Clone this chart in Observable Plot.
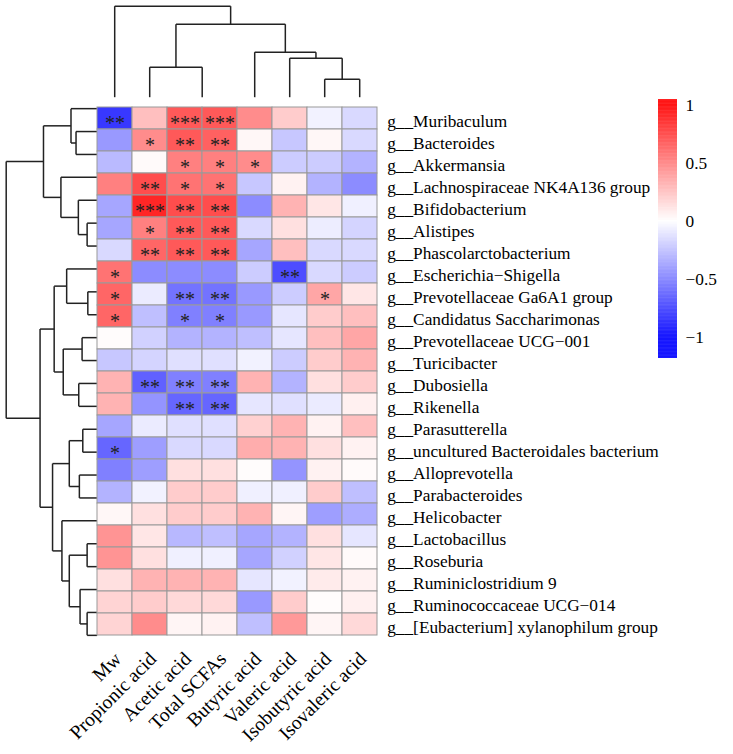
<!DOCTYPE html>
<html><head><meta charset="utf-8">
<script src="https://cdn.jsdelivr.net/npm/d3@7"></script>
<script src="https://cdn.jsdelivr.net/npm/@observablehq/plot@0.6"></script>
<style>
body{margin:0;background:#fff}
#chart{position:relative;width:733px;height:754px;background:#fff;overflow:hidden}
#chart svg{position:absolute;left:0;top:0}
</style>
</head><body><div id="chart"></div>
<script>
// ---- data ----
const columns = ["Mw","Propionic acid","Acetic acid","Total SCFAs","Butyric acid","Valeric acid","Isobutyric acid","Isovaleric acid"];
const genera = [
  "g__Muribaculum","g__Bacteroides","g__Akkermansia","g__Lachnospiraceae NK4A136 group",
  "g__Bifidobacterium","g__Alistipes","g__Phascolarctobacterium","g__Escherichia\u2212Shigella",
  "g__Prevotellaceae Ga6A1 group","g__Candidatus Saccharimonas","g__Prevotellaceae UCG\u2212001","g__Turicibacter",
  "g__Dubosiella","g__Rikenella","g__Parasutterella","g__uncultured Bacteroidales bacterium",
  "g__Alloprevotella","g__Parabacteroides","g__Helicobacter","g__Lactobacillus",
  "g__Roseburia","g__Ruminiclostridium 9","g__Ruminococcaceae UCG\u2212014","g__[Eubacterium] xylanophilum group"
];
const correlations = [
  [-0.78, 0.25, 0.65, 0.65, 0.45, 0.20,-0.05,-0.15],
  [-0.40, 0.45, 0.65, 0.62, 0.03,-0.22, 0.03,-0.15],
  [-0.27, 0.02, 0.50, 0.50, 0.45,-0.20,-0.20,-0.30],
  [ 0.50, 0.70, 0.55, 0.55,-0.22, 0.05,-0.30,-0.45],
  [-0.35, 0.85, 0.70, 0.70,-0.45, 0.30, 0.10,-0.06],
  [-0.35, 0.50, 0.65, 0.65,-0.15, 0.12,-0.07,-0.17],
  [-0.15, 0.60, 0.65, 0.65,-0.35, 0.25,-0.15,-0.15],
  [ 0.55,-0.45,-0.45,-0.45,-0.20,-0.70,-0.15,-0.20],
  [ 0.60,-0.08,-0.55,-0.55,-0.40,-0.20, 0.35, 0.10],
  [ 0.60,-0.25,-0.50,-0.50,-0.40,-0.10, 0.20, 0.25],
  [ 0.01,-0.18,-0.30,-0.30,-0.25,-0.10, 0.25, 0.35],
  [-0.22,-0.17,-0.12,-0.12,-0.05,-0.20, 0.20, 0.30],
  [ 0.30,-0.62,-0.50,-0.50, 0.30,-0.30, 0.12, 0.20],
  [ 0.30,-0.42,-0.60,-0.60,-0.10,-0.12,-0.08, 0.06],
  [-0.35,-0.08,-0.12,-0.12, 0.18, 0.30, 0.05, 0.25],
  [-0.60,-0.38,-0.15,-0.15, 0.32, 0.30, 0.12, 0.05],
  [-0.50,-0.38, 0.12, 0.12, 0.01,-0.42, 0.05, 0.02],
  [-0.30,-0.05, 0.20, 0.20,-0.06,-0.06, 0.20,-0.25],
  [ 0.03, 0.12, 0.20, 0.20, 0.30, 0.04,-0.38,-0.32],
  [ 0.42, 0.10,-0.28,-0.25,-0.35,-0.30, 0.12,-0.10],
  [ 0.42, 0.12,-0.06,-0.06,-0.35,-0.18, 0.10, 0.02],
  [ 0.12, 0.30, 0.30, 0.30,-0.10,-0.05, 0.08, 0.05],
  [ 0.17, 0.20, 0.15, 0.15,-0.40, 0.20, 0.01, 0.06],
  [ 0.17, 0.45, 0.04, 0.05,-0.25, 0.40, 0.04, 0.15]
];
const significance = [
  ["**","","***","***","","","",""],
  ["","*","**","**","","","",""],
  ["","","*","*","*","","",""],
  ["","**","*","*","","","",""],
  ["","***","**","**","","","",""],
  ["","*","**","**","","","",""],
  ["","**","**","**","","","",""],
  ["*","","","","","**","",""],
  ["*","","**","**","","","*",""],
  ["*","","*","*","","","",""],
  ["","","","","","","",""],
  ["","","","","","","",""],
  ["","**","**","**","","","",""],
  ["","","**","**","","","",""],
  ["","","","","","","",""],
  ["*","","","","","","",""],
  ["","","","","","","",""],
  ["","","","","","","",""],
  ["","","","","","","",""],
  ["","","","","","","",""],
  ["","","","","","","",""],
  ["","","","","","","",""],
  ["","","","","","","",""],
  ["","","","","","","",""]
];
// hclust-style merges: negative = leaf (1-based), positive = earlier merge (1-based); third = height
const columnMerges = [
  [-3,-4,0.00],[-7,-8,0.18],[-2,1,0.30],[-6,2,0.39],[-5,4,0.45],[3,5,0.73],[-1,6,0.91]
];
const rowMerges = [
  [-2,-3,0.21],[-1,1,0.26],[-6,-7,0.10],[-5,3,0.187],[-4,4,0.36],[2,5,0.533],
  [-9,-10,0.093],[-8,7,0.303],[-11,-12,0.15],[-13,-14,0.183],[9,10,0.337],[8,11,0.427],
  [-15,-16,0.143],[-17,-18,0.177],[13,14,0.277],[-20,-21,0.10],[-23,-24,0.10],[-22,17,0.17],
  [16,18,0.277],[-19,19,0.35],[15,20,0.443],[12,21,0.567],[6,22,0.903]
];
const legendTicks = [1, 0.5, 0, -0.5, -1];
const legendRange = [-1.18, 1.05];

// ---- helpers ----
function dendroSegments(merges){
  const pos = [], ht = [], segs = [];
  const get = k => k < 0 ? {p: -k - 1 + 0.5, h: 0} : {p: pos[k-1], h: ht[k-1]};
  merges.forEach(([a,b,h], i) => {
    const A = get(a), B = get(b);
    if (h > A.h) segs.push({p1:A.p,h1:A.h,p2:A.p,h2:h});
    if (h > B.h) segs.push({p1:B.p,h1:B.h,p2:B.p,h2:h});
    if (h > 0) segs.push({p1:A.p,h1:h,p2:B.p,h2:h});
    pos[i] = (A.p + B.p)/2; ht[i] = h;
  });
  return segs;
}
const cells = [];
genera.forEach((g,i) => columns.forEach((c,j) => cells.push({row:g, col:c, value:correlations[i][j], sig:significance[i][j]})));

const font = "'Liberation Serif','Times New Roman',serif";
const colorScale = {type:"linear", domain:[-1,0,1], range:["#0000ff","#ffffff","#ff0000"], interpolate:"rgb", clamp:true};
const W = 733, H = 754;
const gx0 = 96.7, gx1 = 376.7, gy0 = 96.7, gy1 = 646.3;
const baseStyle = {fontFamily:font, fontSize:"17px", background:"transparent", color:"#000", overflow:"visible"};

const chart = document.getElementById("chart");

// column dendrogram
chart.appendChild(Plot.plot({
  width:W, height:H, margin:0, style:baseStyle,
  x:{domain:[0, columns.length], range:[gx0, gx1], axis:null},
  y:{domain:[0, 0.91], range:[gy0, 5.7], axis:null},
  marks:[Plot.link(dendroSegments(columnMerges), {x1:"p1", y1:"h1", x2:"p2", y2:"h2", stroke:"#222", strokeWidth:1.5})]
}));

// row dendrogram
chart.appendChild(Plot.plot({
  width:W, height:H, margin:0, style:baseStyle,
  x:{domain:[0, 0.903], range:[gx0, 5.7], axis:null},
  y:{domain:[0, genera.length], range:[gy0, gy1], axis:null},
  marks:[Plot.link(dendroSegments(rowMerges), {x1:"h1", y1:"p1", x2:"h2", y2:"p2", stroke:"#222", strokeWidth:1.5})]
}));

// heatmap
chart.appendChild(Plot.plot({
  width:W, height:H,
  marginLeft:gx0, marginRight:W-gx1, marginTop:gy0, marginBottom:H-gy1,
  style:baseStyle,
  x:{type:"band", domain:columns, padding:0, label:null},
  y:{type:"band", domain:genera, padding:0, label:null},
  color:colorScale,
  marks:[
    Plot.cell(cells, {x:"col", y:"row", fill:"value", stroke:"#999", strokeWidth:1, inset:0}),
    Plot.text(cells.filter(d => d.sig), {x:"col", y:"row", text:"sig", fill:"#222", fontSize:20, dy:5, fontFamily:font}),
    Plot.axisY({anchor:"right", tickSize:0, tickPadding:10, label:null, dy:3, fill:"#000", fontSize:17.3, fontFamily:font}),
    Plot.axisX({anchor:"bottom", tickSize:0, tickPadding:9, tickRotate:-45, label:null, dx:3, fill:"#000", fontSize:19.5, fontFamily:font})
  ]
}));

// legend
const steps = d3.range(legendRange[0], legendRange[1], 0.005);
chart.appendChild(Plot.plot({
  width:W, height:H, marginLeft:658, marginRight:W-677, marginTop:99, marginBottom:H-358,
  style:baseStyle,
  x:{domain:[0,1], axis:null},
  y:{domain:legendRange},
  color:colorScale,
  marks:[
    Plot.rect(steps, {x1:0, x2:1, y1:d => d, y2:d => Math.min(d + 0.007, legendRange[1]), fill:d => d}),
    Plot.axisY({anchor:"right", ticks:legendTicks, tickFormat:d3.format(""), tickSize:0, tickPadding:8, label:null, fill:"#000", fontSize:17.3, fontFamily:font})
  ]
}));
</script>
</body></html>
